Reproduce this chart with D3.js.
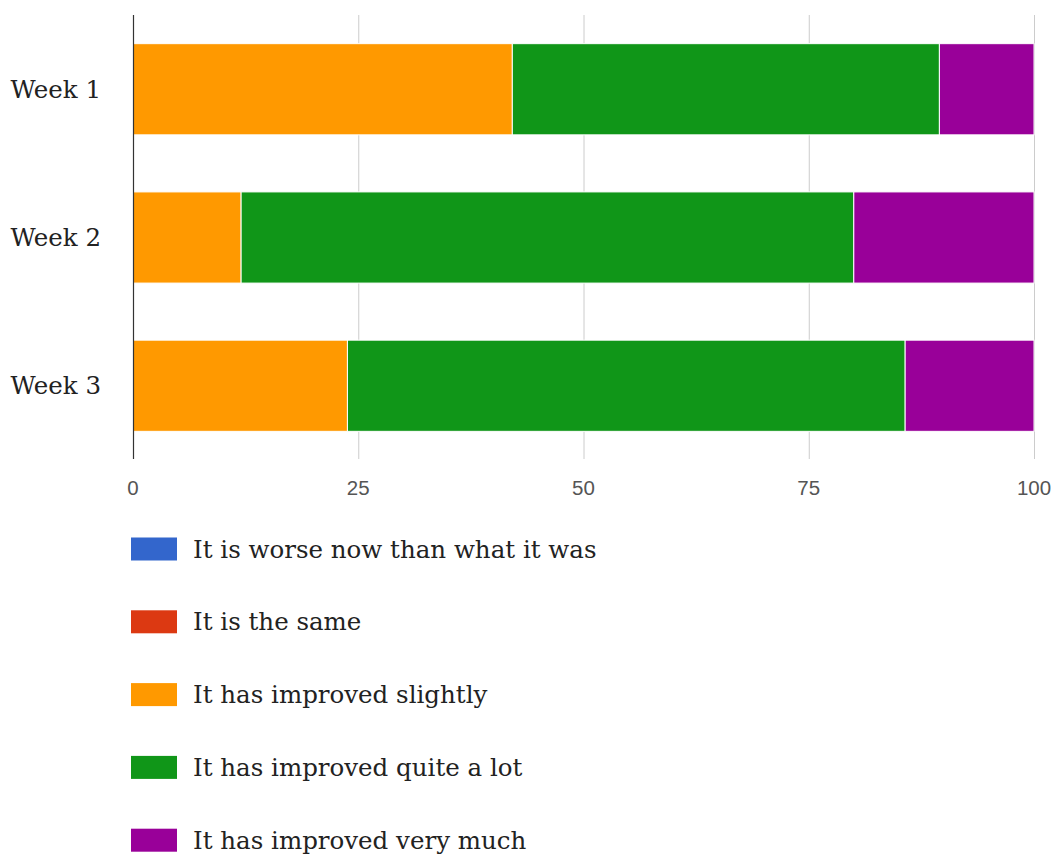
<!DOCTYPE html>
<html>
<head>
<meta charset="utf-8">
<script src="https://cdn.jsdelivr.net/npm/d3@7"></script>
<style>
  body { margin: 0; background: #fff; }
  svg { display: block; }
</style>
</head>
<body>
<div id="chart"></div>
<script>
// chart data (percent of answers per week)
const weeks = ["Week 1", "Week 2", "Week 3"];
const seriesNames = [
	"It is worse now than what it was",
	"It is the same",
	"It has improved slightly",
	"It has improved quite a lot",
	"It has improved very much"
];
const seriesColors = ["#3366cc", "#dc3912", "#ff9900", "#109618", "#990099"];
const worse = [0, 0, 0];
const same = [0, 0, 0];
const slightly = [42.1, 12, 23.8];
const quiteALot = [47.4, 68, 61.9];
const veryMuch = [10.5, 20, 14.3];
const xTicks = [0, 25, 50, 75, 100];

const width = 1054;
const height = 854;
const margin = {top: 15.5, left: 133, right: 20};

// build rows for the stack
let rows = weeks.map((w, i) => ({
	week: w,
	[seriesNames[0]]: worse[i],
	[seriesNames[1]]: same[i],
	[seriesNames[2]]: slightly[i],
	[seriesNames[3]]: quiteALot[i],
	[seriesNames[4]]: veryMuch[i]
}));
let stacked = d3.stack().keys(seriesNames)(rows);

const svg = d3.select('#chart')
	.append('svg')
	.attr('width', width)
	.attr('height', height);

let x = d3.scaleLinear()
	.domain([0, 100])
	.range([margin.left, 1034]);

let y = d3.scaleBand()
	.domain(weeks)
	.range([margin.top, margin.top + 444])
	.paddingInner(0.385)
	.paddingOuter(0.19);

// gridlines
svg.append('g')
	.selectAll('line')
	.data(xTicks.filter(d => d > 0))
	.join('line')
	.attr('x1', d => x(d) + 0.5)
	.attr('x2', d => x(d) + 0.5)
	.attr('y1', 15)
	.attr('y2', 459)
	.attr('stroke', '#cccccc')
	.attr('stroke-width', 1);

// bars
svg.append('g')
	.selectAll('g')
	.data(stacked)
	.join('g')
	.attr('fill', (d, i) => seriesColors[i])
	.selectAll('rect')
	.data(d => d.filter(s => s[1] - s[0] > 0))
	.join('rect')
	.attr('x', d => x(d[0]))
	.attr('width', d => x(d[1]) - x(d[0]))
	.attr('y', d => y(d.data.week))
	.attr('height', y.bandwidth())
	.attr('stroke', '#ffffff')
	.attr('stroke-width', 1);

// baseline
svg.append('line')
	.attr('x1', x(0) + 0.5)
	.attr('x2', x(0) + 0.5)
	.attr('y1', 15)
	.attr('y2', 459)
	.attr('stroke', '#333333')
	.attr('stroke-width', 1.2);

// x tick labels
svg.append('g')
	.selectAll('text')
	.data(xTicks)
	.join('text')
	.attr('x', d => x(d))
	.attr('y', 495)
	.attr('text-anchor', 'middle')
	.attr('fill', '#555')
	.style('font', '20.5px "Liberation Sans", Arial, sans-serif')
	.text(d => d);

// y labels
svg.append('g')
	.selectAll('text')
	.data(weeks)
	.join('text')
	.attr('x', 101)
	.attr('y', d => y(d) + y.bandwidth() / 2)
	.attr('dy', '0.35em')
	.attr('text-anchor', 'end')
	.attr('fill', '#222')
	.style('font', '24.5px "DejaVu Serif", serif')
	.text(d => d);

// legend
const legend = svg.append('g')
	.selectAll('g')
	.data(seriesNames)
	.join('g')
	.attr('transform', (d, i) => `translate(131,${549 + i * 72.8})`);

legend.append('rect')
	.attr('x', 0)
	.attr('y', -11.5)
	.attr('width', 46)
	.attr('height', 23)
	.attr('fill', (d, i) => seriesColors[i]);

legend.append('text')
	.attr('x', 62)
	.attr('y', 0)
	.attr('dy', '0.35em')
	.attr('fill', '#222')
	.style('font', '24.5px "DejaVu Serif", serif')
	.text(d => d);
</script>
</body>
</html>
